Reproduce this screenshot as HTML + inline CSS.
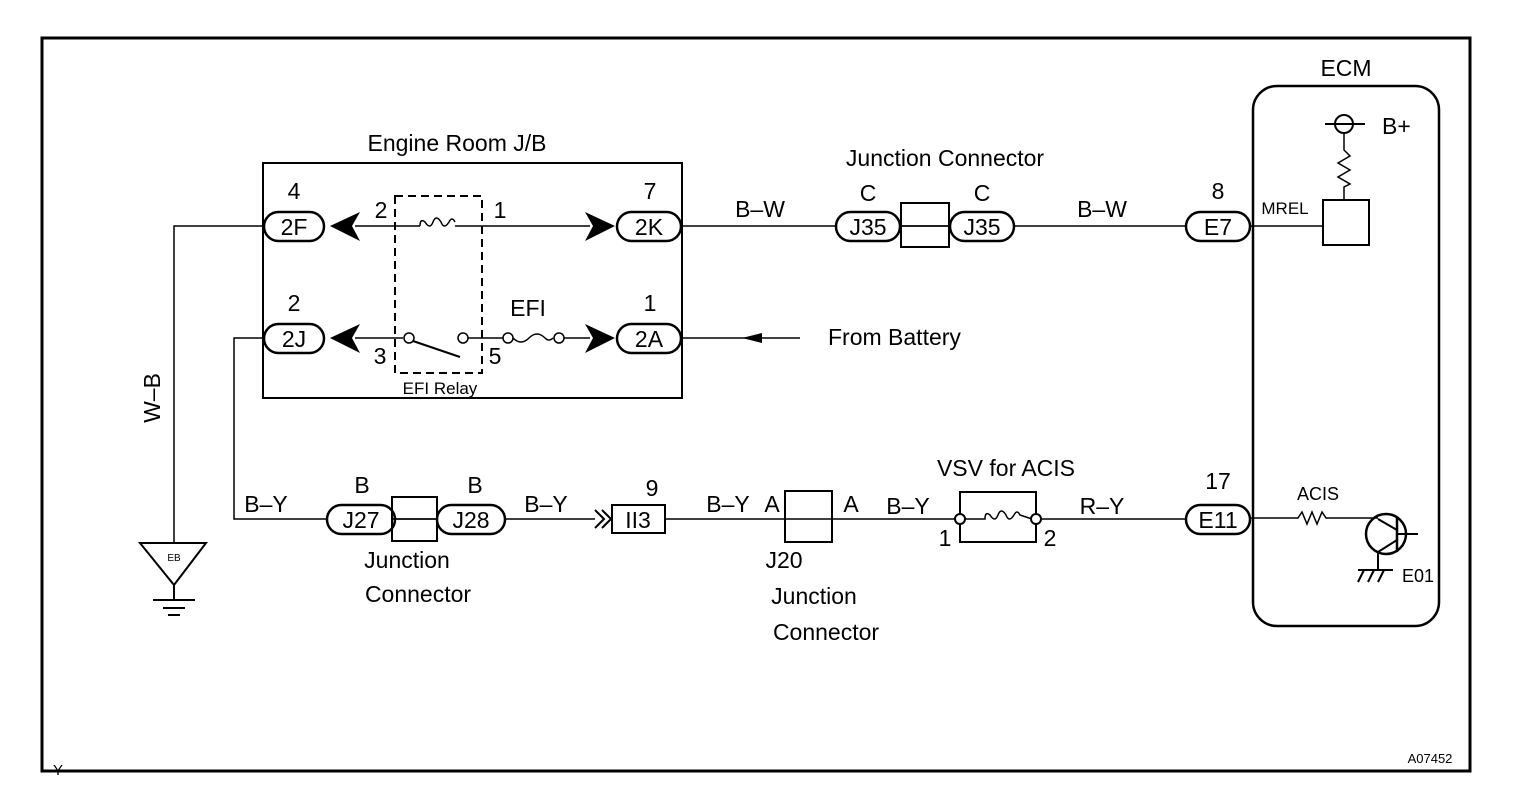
<!DOCTYPE html>
<html><head><style>html,body{margin:0;padding:0;background:#fff}svg{display:block}</style></head>
<body>
<svg width="1536" height="812" viewBox="0 0 1536 812" xmlns="http://www.w3.org/2000/svg" font-family="Liberation Sans, Arial, sans-serif" fill="none" stroke="#000">
<rect x="42" y="38" width="1428" height="733" stroke-width="3"/>
<!-- Engine room J/B -->
<rect x="263" y="163" width="419" height="235" stroke-width="2"/>
<rect x="395" y="196" width="87" height="177" stroke-width="2" stroke-dasharray="8,5"/>
<g stroke-width="2.5">
<rect x="264" y="212" width="60" height="29" rx="14.5" fill="#fff"/>
<rect x="617" y="212" width="64" height="29" rx="14.5" fill="#fff"/>
<rect x="264" y="324" width="60" height="29" rx="14.5" fill="#fff"/>
<rect x="617" y="324" width="64" height="29" rx="14.5" fill="#fff"/>
</g>
<g stroke-width="1.5">
<line x1="355" y1="226" x2="420" y2="226"/><line x1="455" y1="226" x2="590" y2="226"/>
<path d="M420 226 q0 -8 5 -4 q5 8 8 0 q3 -8 8 0 q3 8 8 0 q3 -6 6 0"/>
<line x1="355" y1="338" x2="403" y2="338"/>
<line x1="413" y1="341" x2="460" y2="357" stroke-width="2"/>
<line x1="468" y1="338" x2="503" y2="338"/>
<path d="M513 338 q8 8 16 0 q8 -8 16 0 q4 4 8 0"/>
<line x1="564" y1="338" x2="590" y2="338"/>
<circle cx="409" cy="338" r="5" fill="#fff"/><circle cx="463" cy="338" r="5" fill="#fff"/>
<circle cx="508" cy="338" r="5" fill="#fff"/><circle cx="559" cy="338" r="5" fill="#fff"/>
</g>
<g fill="#000" stroke="none">
<path d="M330 226 L360 212 L352 226 L360 241 Z"/>
<path d="M330 338 L360 324 L352 338 L360 353 Z"/>
<path d="M615 226 L585 212 L593 226 L585 241 Z"/>
<path d="M615 338 L585 324 L593 338 L585 353 Z"/>
<path d="M742 338 L762 333 L762 343 Z"/>
</g>
<g stroke-width="1.5">
<line x1="682" y1="226" x2="836" y2="226"/>
<line x1="1014" y1="226" x2="1186" y2="226"/>
<line x1="1250" y1="226" x2="1323" y2="226"/>
<line x1="682" y1="338" x2="800" y2="338"/>
<polyline points="263,226 174,226 174,543"/>
<polyline points="263,338 234,338 234,519 327,519"/>
<line x1="505" y1="519" x2="595" y2="519"/>
<line x1="665" y1="519" x2="958" y2="519"/>
<line x1="1040" y1="519" x2="1186" y2="519"/>
</g>
<g stroke-width="2.5">
<rect x="836" y="212" width="64" height="29" rx="14.5" fill="#fff"/>
<rect x="950" y="212" width="64" height="29" rx="14.5" fill="#fff"/>
<rect x="1186" y="212" width="64" height="29" rx="14.5" fill="#fff"/>
<rect x="1186" y="505" width="64" height="29" rx="14.5" fill="#fff"/>
<rect x="327" y="505" width="68" height="29" rx="14.5" fill="#fff"/>
<rect x="437" y="505" width="68" height="29" rx="14.5" fill="#fff"/>
</g>
<g stroke-width="2">
<rect x="901" y="203" width="48" height="44"/>
<rect x="392" y="497" width="45" height="44"/>
<rect x="612" y="505" width="53" height="28"/>
<polyline points="595,510 604,519 595,528"/><polyline points="602,510 611,519 602,528"/>
<rect x="785" y="491" width="47" height="51"/>
<polyline points="960,515 960,492 1036,492 1036,515"/><polyline points="960,523 960,542 1036,542 1036,523"/>
<path d="M965 519 L985 519 q0 -8 5 -4 q5 8 8 0 q3 -8 8 0 q3 8 8 0 q3 -6 6 0 L1032 519" stroke-width="1.5"/>
<circle cx="960" cy="519" r="5" fill="#fff"/><circle cx="1036" cy="519" r="5" fill="#fff"/>
<path d="M140 543 L206 543 L174 585 Z"/>
<line x1="174" y1="585" x2="174" y2="600"/>
<line x1="153" y1="600" x2="195" y2="600"/><line x1="163" y1="608" x2="185" y2="608"/><line x1="168" y1="615" x2="180" y2="615"/>
<rect x="1253" y="86" width="186" height="540" rx="24" stroke-width="2.5"/>
<rect x="1323" y="200" width="46" height="45"/>
<line x1="1325" y1="124" x2="1365" y2="124"/><circle cx="1344" cy="124" r="9"/>
<path d="M1344 133 L1344 150 L1350 156 L1338 163 L1350 170 L1338 177 L1350 184 L1344 187 L1344 200" stroke-width="1.5"/>
<path d="M1250 518 L1298 518 L1302 512 L1307 524 L1312 512 L1317 524 L1322 512 L1326 518 L1378 518" stroke-width="1.5"/>
<circle cx="1386" cy="534" r="20" stroke-width="2.5"/>
<line x1="1397" y1="518" x2="1397" y2="552" stroke-width="2.5"/>
<line x1="1397" y1="534" x2="1418" y2="534"/>
<line x1="1378" y1="519" x2="1397" y2="530"/>
<line x1="1397" y1="540" x2="1378" y2="552"/>
<line x1="1378" y1="552" x2="1378" y2="570"/>
<line x1="1358" y1="570" x2="1393" y2="570"/>
<line x1="1364" y1="570" x2="1358" y2="582"/><line x1="1374" y1="570" x2="1368" y2="582"/><line x1="1384" y1="570" x2="1378" y2="582"/>
</g>
<g stroke-width="1.8">
<line x1="900" y1="226" x2="950" y2="226"/>
<line x1="392" y1="519" x2="437" y2="519"/>
</g>
<g fill="#000" stroke="none" font-size="23" text-anchor="middle">
<text x="457" y="151">Engine Room J/B</text>
<text x="945" y="166">Junction Connector</text>
<text x="1346" y="76">ECM</text>
<text x="294" y="199">4</text><text x="650" y="199">7</text>
<text x="294" y="311">2</text><text x="650" y="311">1</text>
<text x="294" y="235">2F</text><text x="649" y="235">2K</text>
<text x="294" y="347">2J</text><text x="649" y="347">2A</text>
<text x="381" y="218">2</text><text x="500" y="218">1</text>
<text x="380" y="364">3</text><text x="495" y="364">5</text>
<text x="528" y="316">EFI</text>
<text x="440" y="394" font-size="17">EFI Relay</text>
<text x="760" y="217">B–W</text><text x="1102" y="217">B–W</text>
<text x="868" y="201">C</text><text x="982" y="201">C</text>
<text x="868" y="235">J35</text><text x="982" y="235">J35</text>
<text x="1218" y="199">8</text><text x="1218" y="235">E7</text>
<text x="266" y="512">B–Y</text><text x="546" y="512">B–Y</text>
<text x="362" y="493">B</text><text x="475" y="493">B</text>
<text x="361" y="528">J27</text><text x="471" y="528">J28</text>
<text x="407" y="568">Junction</text><text x="418" y="602">Connector</text>
<text x="652" y="496">9</text><text x="638" y="528">II3</text>
<text x="728" y="512">B–Y</text><text x="772" y="512">A</text><text x="851" y="512">A</text>
<text x="908" y="514">B–Y</text>
<text x="1006" y="476">VSV for ACIS</text>
<text x="945" y="546">1</text><text x="1050" y="546">2</text>
<text x="1102" y="514">R–Y</text>
<text x="1218" y="489">17</text><text x="1218" y="528">E11</text>
<text x="784" y="568">J20</text><text x="814" y="604">Junction</text><text x="826" y="640">Connector</text>
<text x="1318" y="500" font-size="18">ACIS</text>
<text x="1418" y="582" font-size="18">E01</text>
<text x="1285" y="214" font-size="17">MREL</text>
<text x="1382" y="134" text-anchor="start">B+</text>
<text x="174" y="561" font-size="10">EB</text>
<text x="160" y="398" transform="rotate(-90 160 398)">W–B</text>
<text x="58" y="775" font-size="15">Y</text>
<text x="1430" y="763" font-size="13">A07452</text>
<text x="828" y="345" text-anchor="start">From Battery</text>
</g>
</svg>
</body></html>
